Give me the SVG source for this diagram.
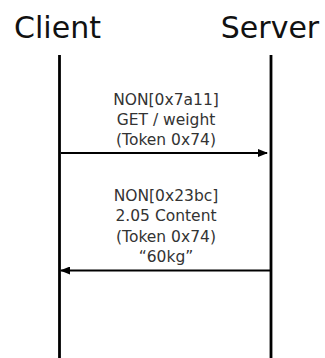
<svg xmlns="http://www.w3.org/2000/svg" width="325" height="358" viewBox="0 0 325 358">
<style>
.title{font-family:"DejaVu Sans","Liberation Sans",sans-serif;font-size:30px;fill:#111;text-anchor:middle}
.lbl{font-family:"DejaVu Sans","Liberation Sans",sans-serif;font-size:15.5px;fill:#333;text-anchor:middle}
.life{stroke:#000;stroke-width:2.8;fill:none}
.msg{stroke:#000;stroke-width:2.2;fill:none;marker-end:url(#ah)}
</style>
<defs>
<marker id="ah" markerWidth="10" markerHeight="8" refX="9" refY="4" orient="auto" markerUnits="userSpaceOnUse">
<path d="M0,0 L10,4 L0,8 Z" fill="#000"/>
</marker>
</defs>
<rect width="325" height="358" fill="#fff"/>
<g id="client">
<text class="title" x="57.5" y="38">Client</text>
<line class="life" x1="59.5" y1="55" x2="59.5" y2="358"/>
</g>
<g id="server">
<text class="title" x="270" y="38">Server</text>
<line class="life" x1="271" y1="55" x2="271" y2="358"/>
</g>
<g id="connectors">
<line class="msg" x1="61" y1="153" x2="267" y2="153"/>
<line class="msg" x1="270" y1="270.5" x2="61" y2="270.5"/>
</g>
<g id="labels">
<text class="lbl" x="166" y="104.5">NON[0x7a11]</text>
<text class="lbl" x="166" y="125">GET / weight</text>
<text class="lbl" x="166" y="145">(Token 0x74)</text>
<text class="lbl" x="166" y="200.5">NON[0x23bc]</text>
<text class="lbl" x="166" y="221">2.05 Content</text>
<text class="lbl" x="166" y="241.5">(Token 0x74)</text>
<text class="lbl" x="166" y="262">“60kg”</text>
</g>
</svg>
